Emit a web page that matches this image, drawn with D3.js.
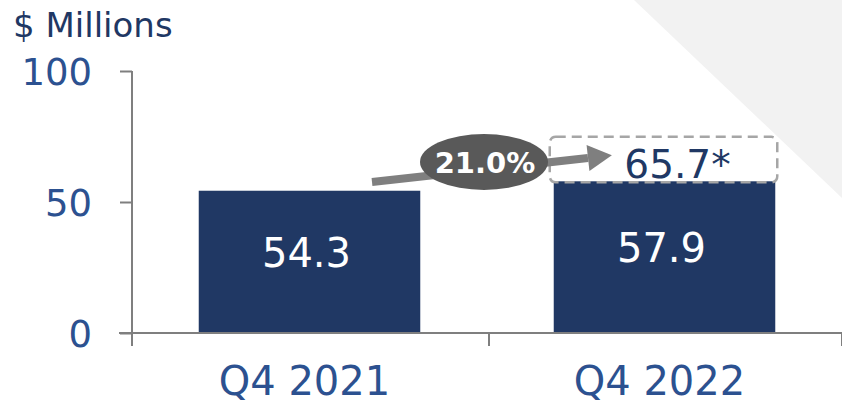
<!DOCTYPE html>
<html><head><meta charset="utf-8">
<script src="https://cdn.jsdelivr.net/npm/d3@7"></script>
<style>body{margin:0;background:#fff}svg{display:block}</style>
</head><body>
<svg id="c" width="842" height="406"></svg>
<script>
const categories = ["Q4 2021", "Q4 2022"];
const values = [54.3, 57.9];
const valueLabels = ["54.3", "57.9"];
const yTicks = [0, 50, 100];
const projected = 65.7;
const projectedLabel = "65.7*";
const growthLabel = "21.0%";
const unitLabel = "$ Millions";

const svg = d3.select("#c");
const W = 842, H = 406;
const x0 = 132, x1 = 842, yTop = 71, yBot = 333;
const navy = "#203864", textBlue = "#2c5190", unitBlue = "#1f3864", font = "DejaVu Sans, Verdana, sans-serif";

// background triangle
svg.append("polygon").attr("points", `634,0 ${W},0 ${W},198`).attr("fill", "#f2f2f2");

const x = d3.scaleBand().domain(categories).range([x0, x1]).paddingInner(0.376).paddingOuter(0.188);
const y = d3.scaleLinear().domain([0, 100]).range([yBot, yTop]);

// bars
svg.selectAll("rect.bar").data(values).join("rect").attr("class", "bar")
  .attr("x", (d, i) => x(categories[i])).attr("width", x.bandwidth())
  .attr("y", d => y(d)).attr("height", d => y(0) - y(d)).attr("fill", navy);

// bar labels
svg.selectAll("text.bl").data(values).join("text").attr("class", "bl")
  .attr("x", (d, i) => x(categories[i]) + x.bandwidth() / 2 - 3)
  .attr("y", d => (y(d) + y(0)) / 2 + 5)
  .attr("text-anchor", "middle").attr("fill", "#fff")
  .style("font", `40px ${font}`).text((d, i) => valueLabels[i]);

// y axis
const yAxis = d3.axisLeft(y).tickValues(yTicks).tickSize(12).tickPadding(28);
const gy = svg.append("g").attr("transform", `translate(${x0},0)`).call(yAxis);
gy.select(".domain").attr("stroke", "#7f7f7f").attr("stroke-width", 2).attr("d", `M0,${yTop}V${yBot}`);
gy.selectAll(".tick line").attr("stroke", "#7f7f7f").attr("stroke-width", 2);
gy.selectAll(".tick text").attr("fill", textBlue).style("font", `37px ${font}`).attr("dy", "0.36em");

// x axis
const xTickPos = [x0, (x0 + x1) / 2 + 2, x1];
const gx = svg.append("g");
gx.append("line").attr("x1", 119).attr("x2", W).attr("y1", yBot).attr("y2", yBot)
  .attr("stroke", "#7f7f7f").attr("stroke-width", 2);
gx.selectAll("line.t").data(xTickPos).join("line").attr("class", "t")
  .attr("x1", d => d).attr("x2", d => d).attr("y1", yBot).attr("y2", yBot + 13)
  .attr("stroke", "#7f7f7f").attr("stroke-width", 2);
gx.selectAll("text").data(categories).join("text")
  .attr("x", d => x(d) + x.bandwidth() / 2 - 5).attr("y", 395)
  .attr("text-anchor", "middle").attr("fill", textBlue)
  .style("font", `40px ${font}`).text(d => d);

// unit label
svg.append("text").attr("x", 13).attr("y", 37).attr("fill", unitBlue)
  .style("font", `34px ${font}`).text(unitLabel);

// projected dashed box
const bx = x(categories[1]) - 4, bw = x.bandwidth() + 6;
const boxTop = y(projected) - 24, boxBot = y(values[1]) + 1;
svg.append("rect").attr("x", bx).attr("y", boxTop).attr("width", bw).attr("height", boxBot - boxTop)
  .attr("rx", 6).attr("fill", "none").attr("stroke", "#a6a6a6").attr("stroke-width", 2.5)
  .attr("stroke-dasharray", "10,6");
svg.append("text").attr("x", x(categories[1]) + x.bandwidth() / 2 + 13).attr("y", boxBot - 4)
  .attr("text-anchor", "middle").attr("fill", navy)
  .style("font", `39px ${font}`).text(projectedLabel);

// growth arrow
const ax1 = 372, ay1 = 182, ax2 = 588, ay2 = 158;
svg.append("line").attr("x1", ax1).attr("y1", ay1).attr("x2", ax2).attr("y2", ay2)
  .attr("stroke", "#7f7f7f").attr("stroke-width", 8);
const ang = Math.atan2(ay2 - ay1, ax2 - ax1);
const tip = [ax2 + 24 * Math.cos(ang), ay2 + 24 * Math.sin(ang)];
const nx = -Math.sin(ang), ny = Math.cos(ang);
svg.append("polygon").attr("points", [
  [tip[0], tip[1]],
  [ax2 + 13 * nx, ay2 + 13 * ny],
  [ax2 - 13 * nx, ay2 - 13 * ny]].map(p => p.join(",")).join(" ")).attr("fill", "#7f7f7f");
svg.append("ellipse").attr("cx", 484).attr("cy", 162).attr("rx", 64).attr("ry", 28).attr("fill", "#595959");
svg.append("text").attr("x", 485).attr("y", 173).attr("text-anchor", "middle").attr("fill", "#fff")
  .style("font", `bold 29px ${font}`).text(growthLabel);
</script>
</body></html>
